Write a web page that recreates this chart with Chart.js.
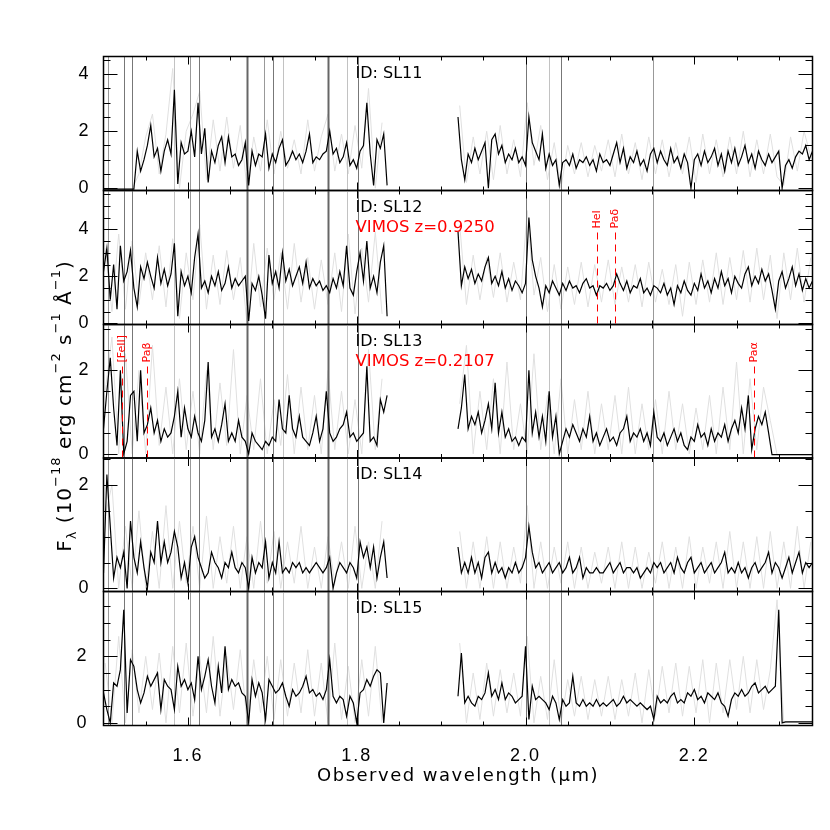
<!DOCTYPE html>
<html>
<head>
<meta charset="utf-8">
<script src="https://cdn.jsdelivr.net/npm/chart.js@4.4.1/dist/chart.umd.min.js"></script>
<style>
  html, body { margin: 0; padding: 0; background: #fff; }
  #wrap { position: relative; width: 830px; height: 830px; }
  #wrap canvas { position: absolute; left: 0; top: 0; }
</style>
</head>
<body>
<div id="wrap"></div>
<script>
// wavelength grid (micron)
const blueStart = 1.500, redStart = 1.920, fluxStep = 0.004;
const greyOffset = 0.002, greyStep = 0.008;
const gapWave = 1.878;

const panelIds = ['ID: SL11', 'ID: SL12', 'ID: SL13', 'ID: SL14', 'ID: SL15'];
const redshiftLabels = ['', 'VIMOS z=0.9250', 'VIMOS z=0.2107', '', ''];
const lineNames = [[], ['HeI', 'Paδ'], ['[FeII]', 'Paβ', 'Paα'], [], []];
const lineWaves = [[], [2.0848, 2.1061], [1.5215, 1.5519, 2.2702], [], []];

const yMin = [-0.08, -0.05, -0.10, -0.06, -0.08];
const yMax = [4.62, 5.65, 3.10, 2.52, 3.95];
const yTicks = [[0, 2, 4], [0, 2, 4], [0, 2], [0, 2], [0, 2]];
const xTickLabels = [1.6, 1.8, 2.0, 2.2];
const xMin = 1.5, xMax = 2.34;

// OH sky line mask, level 0 = strongest
const skyLines = [1.5057, 1.5243, 1.5334, 1.5839, 1.6025, 1.6132, 1.6698, 1.6903, 1.7006, 1.7125, 1.7665, 1.7883, 1.8014, 2.0009, 2.0281, 2.0416, 2.1511];
const skyLevel = [2, 1, 1, 3, 2, 1, 0, 2, 1, 3, 0, 3, 1, 1, 3, 1, 2];

// binned spectra (black), blue and red segments
const blueFlux = [
  [-0.03,-0.03,-0.03,-0.03,-0.03,-0.03,-0.03,-0.03,-0.03,-0.03, 1.3,0.6,1.0,1.5,2.2,1.1,1.4,0.6,1.3,1.7,
   1.2,3.45,0.15,1.6,1.2,1.3,2.0,1.1,3.0,1.2, 2.1,0.2,1.3,0.9,1.5,1.8,0.9,1.8,1.1,1.2,
   0.8,1.0,1.6,0.1,1.3,0.8,1.2,1.1,1.9,0.7, 1.2,0.9,1.4,1.7,0.8,1.0,1.3,1.0,1.2,0.9,
   1.3,1.9,0.9,1.1,1.0,1.2,1.3,2.0,1.2,1.4, 0.9,1.1,1.6,0.8,1.0,0.7,1.3,1.5,3.0,1.2, 0.1,1.7,1.4,1.9,0.1],
  [2.2,3.2,1.0,2.5,0.6,3.3,1.8,2.2,3.1,1.5, 0.7,2.4,1.9,2.6,2.0,1.5,2.8,1.7,2.3,1.6,
   2.1,3.4,0.3,2.2,1.6,2.0,1.3,2.8,3.8,1.5, 1.8,1.3,2.0,1.6,2.2,1.4,1.7,2.4,1.5,1.9,
   1.6,1.8,2.0,0.1,1.7,1.4,2.0,1.2,0.2,2.9, 1.7,2.2,1.5,3.0,1.8,2.3,1.6,2.0,2.4,1.7,
   2.6,1.5,1.9,1.6,1.8,1.4,1.6,1.3,1.9,1.5, 2.2,1.6,3.3,1.5,1.2,2.2,3.0,1.8,3.5,1.5, 2.0,1.3,2.6,3.3,0.3],
  [0.6,1.5,2.3,1.1,0.2,2.0,0.0,0.3,1.4,1.5, 0.3,2.0,0.5,0.7,1.1,0.5,0.8,0.3,0.6,0.4,
   0.5,0.9,1.5,0.4,1.1,0.6,0.4,0.9,0.5,0.3, 0.8,2.2,0.4,0.6,0.3,0.7,1.2,0.3,0.5,0.3,
   0.8,0.4,0.3,0.0,0.5,0.3,0.2,0.1,0.3,0.2, 0.4,0.3,1.3,0.6,0.5,1.4,0.6,0.4,0.9,0.4,
   0.3,0.2,0.5,0.9,0.3,0.6,1.5,0.5,0.3,0.4, 0.6,0.7,1.0,0.4,0.5,0.3,0.4,0.5,2.1,0.3, 0.4,0.2,1.3,1.0,1.4],
  [0.3,2.2,1.2,0.2,0.6,0.4,0.7,0.0,1.3,0.6, 0.3,0.9,0.4,0.0,0.7,0.5,1.3,0.5,0.9,0.5,
   0.7,1.1,0.8,0.2,0.5,0.1,0.8,1.0,0.6,0.4, 0.2,0.3,0.7,0.5,0.4,0.2,0.5,0.4,0.7,0.4,
   0.3,0.5,0.4,0.0,0.6,0.3,0.5,0.4,0.9,0.2, 0.5,0.3,0.9,0.3,0.4,0.3,0.5,0.4,0.5,0.3,
   0.4,0.3,0.4,0.5,0.4,0.3,0.4,0.6,0.0,0.3, 0.5,0.4,0.3,0.5,0.4,0.2,0.9,0.6,0.8,0.4, 0.8,0.2,0.6,0.9,0.2],
  [0.9,0.4,0.0,1.2,1.1,1.6,3.4,0.3,1.9,1.7, 1.0,0.6,0.9,1.4,1.1,1.3,1.5,0.4,1.3,1.1,
   1.0,0.4,1.7,1.1,1.3,1.0,1.2,0.7,2.0,1.0, 1.4,1.9,1.1,0.6,1.7,0.9,2.3,1.0,1.3,1.1,
   1.2,0.9,0.8,0.0,1.3,0.8,1.2,0.9,0.1,1.3, 1.1,0.9,1.0,1.2,0.8,0.5,1.0,0.8,0.9,1.1,
   1.4,0.9,1.0,0.8,0.9,0.7,1.0,1.9,0.8,0.6, 0.8,0.7,0.2,0.8,0.6,0.0,0.9,1.0,1.3,1.1, 1.4,1.6,1.5,0.0,1.2]
];
const redFlux = [
  [2.5,1.0,0.3,1.2,0.9,1.4,1.0,1.3,1.6,0.0, 1.7,1.9,1.2,1.5,0.9,1.2,1.0,1.4,0.9,1.1,
   0.8,2.5,1.6,1.3,1.0,1.9,0.7,1.2,0.8,1.0, 0.1,0.9,1.0,0.8,1.2,0.7,1.0,0.9,1.1,0.8,
   1.0,0.6,1.2,0.9,1.0,0.8,1.2,1.6,0.9,1.4, 0.7,1.1,0.9,1.3,0.8,1.0,0.6,1.2,1.4,0.9,
   1.3,1.0,0.8,1.4,0.9,1.1,0.7,1.2,0.9,0.0, 1.0,1.2,0.8,1.3,0.9,1.1,1.4,0.8,1.2,0.6,
   1.3,0.9,1.4,0.8,1.1,1.5,0.9,1.2,0.7,1.3, 1.0,0.8,1.2,0.9,1.1,1.3,0.0,0.8,1.0,0.7, 1.1,1.3,1.2,1.5,1.0,1.3],
  [3.9,1.6,2.4,1.9,2.3,1.7,2.1,1.8,2.4,2.8, 1.7,2.0,1.6,2.2,1.5,1.9,1.4,1.8,1.6,1.3,
   1.7,4.5,2.7,2.0,1.5,0.7,1.6,1.3,1.8,1.5, 1.2,1.7,1.4,1.8,1.5,1.6,1.3,1.7,1.9,1.5,
   1.6,1.2,1.6,1.5,1.7,1.4,1.6,2.1,1.7,1.4, 1.8,1.3,1.6,1.5,1.9,1.3,1.5,1.2,1.6,1.5,
   1.3,1.7,1.2,1.5,0.8,1.6,1.3,1.8,1.4,1.2, 1.7,1.4,2.1,1.5,1.8,1.3,1.9,1.5,2.2,1.6,
   1.9,1.3,2.0,1.7,1.5,2.1,2.4,1.6,2.0,1.7, 2.3,1.8,2.1,1.4,0.6,1.8,2.2,1.5,1.9,2.4, 1.6,2.1,1.4,1.9,1.5,1.8],
  [0.6,1.1,1.9,0.6,0.9,0.7,1.0,0.5,0.8,1.2, 0.6,1.7,0.5,1.0,0.4,0.6,0.3,0.4,0.2,0.4,
   0.3,2.0,0.5,1.0,0.4,0.9,0.3,1.5,0.4,0.9, 0.0,0.3,0.6,0.4,0.7,0.5,0.3,0.6,0.4,0.9,
   0.3,0.5,0.2,0.4,0.6,0.3,0.4,0.2,0.5,0.6, 0.9,0.3,0.5,0.4,0.6,0.3,0.5,0.2,1.0,0.4,
   0.3,0.5,0.2,0.4,0.6,0.3,0.5,0.2,0.1,0.4, 0.3,0.7,0.4,0.5,0.2,0.6,0.3,0.5,0.4,0.7,
   0.3,0.6,0.8,0.5,1.1,0.6,1.4,0.1,0.6,0.9, 0.7,1.0,0.5,-0.02,-0.02,-0.02,-0.02,-0.02,-0.02,-0.02, -0.02,-0.02,-0.02,-0.02,-0.02,-0.02],
  [0.8,0.3,0.5,0.3,0.6,0.3,0.5,0.2,0.6,0.7, 0.3,0.5,0.3,0.4,0.2,0.4,0.3,0.5,0.3,0.4,
   0.6,1.2,0.7,0.4,0.5,0.3,0.4,0.5,0.3,0.4, 0.5,0.3,0.4,0.6,0.3,0.4,0.6,0.2,0.4,0.3,
   0.3,0.4,0.3,0.3,0.4,0.5,0.3,0.4,0.5,0.3, 0.4,0.4,0.3,0.4,0.2,0.3,0.4,0.3,0.5,0.4,
   0.5,0.3,0.4,0.5,0.3,0.6,0.4,0.3,0.5,0.6, 0.3,0.4,0.5,0.3,0.4,0.5,0.3,0.4,0.5,0.7,
   0.3,0.4,0.3,0.5,0.3,0.4,0.2,0.4,0.5,0.3, 0.4,0.5,0.7,0.3,0.5,0.4,0.2,0.4,0.6,0.3, 0.5,0.7,0.3,0.5,0.4,0.5],
  [0.8,2.1,0.6,0.8,0.6,0.5,0.8,0.7,0.9,1.5, 0.8,1.0,0.7,1.2,0.7,0.9,0.8,0.6,0.7,0.8,
   2.3,0.1,1.1,0.7,0.8,0.7,0.6,0.4,0.8,0.6, 0.1,0.7,0.5,0.6,1.4,0.6,0.5,0.7,0.5,0.6,
   0.5,0.7,0.5,0.6,0.5,0.6,0.7,0.5,0.6,0.8, 0.6,0.7,0.6,0.5,0.6,0.5,0.4,0.5,0.1,0.8,
   0.6,0.7,0.6,0.8,0.9,0.6,0.7,0.6,0.9,0.8, 1.0,0.7,0.8,0.6,0.9,0.8,0.7,0.9,0.6,0.5,
   0.2,0.7,0.9,0.8,1.0,0.8,0.9,1.1,1.2,0.9, 1.0,1.1,0.9,1.0,1.1,3.4,0.0,0.03,0.03,0.03, 0.03,0.03,0.03,0.03,0.03,0.03]
];

// unbinned spectra (light grey)
const blueGrey = [
  [-0.03,-0.03,-0.03,-0.03,-0.03, 0.5,1.8,2.6,0.5,1.9, 4.2,0.0,2.0,2.6,3.4, 0.3,2.4,0.6,2.5,0.7,
   2.2,0.0,1.8,0.6,2.4, 0.5,2.0,0.7,1.7,0.5, 2.4,0.6,1.8,2.6,0.6, 1.9,0.5,2.2,0.7,3.5, 0.0,2.3],
  [3.2,0.5,3.8,0.6,3.5, 0.8,3.0,1.0,3.3,0.7, 3.6,0.2,3.0,1.0,4.2, 0.6,2.9,0.8,3.1,1.0,
   2.8,0.0,3.4,0.7,3.2, 1.0,3.0,0.6,3.4,0.9, 2.8,0.6,2.7,0.8,3.0, 0.5,3.8,0.4,3.2,0.9, 3.9,0.4],
  [1.5,2.8,0.0,2.4,0.0, 2.0,0.0,2.6,0.2,1.6, 0.0,1.8,0.1,1.5,0.0, 2.0,0.1,1.7,0.2,2.5,
   0.0,1.4,0.1,1.8,0.0, 1.3,0.2,1.9,0.0,1.6, 0.1,1.4,0.0,2.0,0.1, 1.5,0.0,1.3,0.0,2.5, 0.1,1.8],
  [1.4,2.0,0.0,1.2,0.0, 1.5,0.0,1.1,0.0,1.6, 0.0,1.3,0.1,1.2,0.0, 1.4,0.0,1.0,0.1,1.2,
   0.0,1.0,0.0,1.3,0.1, 1.1,0.0,0.9,0.1,1.2, 0.0,0.8,0.0,1.0,0.1, 0.9,0.0,1.2,0.0,0.9, 0.0,1.3],
  [1.8,0.0,2.6,0.0,2.2, 0.3,2.0,0.4,2.1,0.0, 2.3,0.3,2.4,0.2,2.0, 0.3,2.6,0.2,2.0,0.4,
   2.2,0.0,1.9,0.3,2.0, 0.1,1.9,0.2,1.8,0.3, 2.2,0.2,1.8,0.0,2.4, 0.1,1.7,0.0,1.9,0.2, 2.3,0.0]
];
const redGrey = [
  [2.9,0.2,1.8,0.5,2.0, 0.3,2.2,0.5,1.7,0.4, 3.0,0.8,2.2,0.3,1.6, 0.0,1.5,0.5,1.6,0.4,
   1.5,0.6,1.7,0.4,1.9, 0.5,1.6,0.3,1.8,0.5, 1.7,0.4,1.6,0.5,1.8, 0.2,1.9,0.5,1.7,0.4,
   1.8,0.5,2.0,0.4,1.7, 0.5,1.9,0.4,0.1,1.8, 0.6,2.0,1.1],
  [4.2,0.8,2.9,1.0,2.8, 1.1,3.0,0.9,2.6,1.0, 4.8,1.2,2.8,0.5,2.5, 0.6,2.4,0.8,2.6,0.7,
   2.5,0.9,2.7,0.8,2.4, 0.9,2.5,0.7,2.6,0.9, 2.3,0.8,2.5,0.3,2.6, 0.8,2.7,0.9,3.0,0.8,
   2.8,1.0,3.1,0.9,3.2, 1.0,2.9,0.2,3.0,1.0, 3.2,0.9,2.8],
  [1.2,2.6,0.0,1.5,0.1, 1.8,0.0,2.2,0.1,1.2, 0.0,2.4,0.1,1.4,0.0, 1.8,0.0,1.3,0.1,1.5,
   0.0,1.2,0.1,1.4,0.0, 1.6,0.0,1.2,0.1,1.3, 0.0,1.5,0.1,1.2,0.0, 1.1,0.1,1.4,0.0,1.6,
   0.1,2.2,0.0,1.8,0.1, 1.6,0.8,-0.02,-0.02,-0.02, -0.02,-0.02,-0.02],
  [1.1,0.0,0.9,0.0,1.0, 0.0,0.9,0.0,0.8,0.1, 1.6,0.0,0.9,0.0,0.8, 0.1,0.9,0.0,0.8,0.0,
   0.7,0.1,0.8,0.0,0.9, 0.0,0.8,0.0,0.7,0.1, 0.9,0.0,0.8,0.0,1.0, 0.0,0.8,0.1,0.9,0.0,
   1.1,0.0,0.9,0.0,1.0, 0.0,1.1,0.0,0.9,0.0, 1.2,0.0,0.9],
  [2.4,0.0,1.5,0.1,1.8, 0.2,1.6,0.3,1.5,0.2, 2.6,0.0,1.4,0.1,1.9, 0.0,1.3,0.2,1.4,0.1,
   1.3,0.2,1.4,0.1,1.3, 0.2,1.5,0.0,1.6,0.2, 1.7,0.3,1.8,0.2,1.7, 0.3,1.9,0.0,1.8,0.3,
   1.9,0.4,2.0,0.3,1.9, 0.4,1.6,3.7,0.0,0.03, 0.03,0.03,0.03]
];

// panel frame rows in pixels
const panelTop = [56.5, 190.5, 324.5, 458, 591.5];
const panelBottom = [190.5, 324.5, 458, 591.5, 725.5];
const frameLeft = 103.5, frameRight = 812.5;

const yTitleParts = [
  { text: 'F', kind: 'n' }, { text: 'λ', kind: 'sub' }, { text: ' (10', kind: 'n' },
  { text: '−18', kind: 'sup' }, { text: ' erg cm', kind: 'n' }, { text: '−2', kind: 'sup' },
  { text: ' s', kind: 'n' }, { text: '−1', kind: 'sup' }, { text: ' Å', kind: 'n' },
  { text: '−1', kind: 'sup' }, { text: ')', kind: 'n' }
];

function toPoints(blue, red, b0, r0, step) {
  const pts = blue.map((v, i) => ({ x: b0 + i * step, y: v }));
  pts.push({ x: gapWave, y: null });
  red.forEach((v, i) => pts.push({ x: r0 + i * step, y: v }));
  return pts;
}

const skyColors = ['#666666', '#777777', '#999999', '#c2c2c2'];

const panelDecor = {
  id: 'panelDecor',
  beforeDraw(chart, args, opts) {
    chart.ctx.letterSpacing = opts.panel === 4 ? '2px' : '0px';
  },
  beforeDatasetDraw(chart, args) {
    if (args.index !== 0) return;
    const { ctx, chartArea: a, scales: { x } } = chart;
    ctx.save();
    skyLines.forEach((w, i) => {
      const px = Math.round(x.getPixelForValue(w)) + 0.5;
      ctx.strokeStyle = skyColors[skyLevel[i]];
      ctx.lineWidth = skyLevel[i] === 0 ? 2 : 1;
      ctx.beginPath();
      ctx.moveTo(px, a.top);
      ctx.lineTo(px, a.bottom);
      ctx.stroke();
    });
    ctx.restore();
  },
  afterDraw(chart, args, opts) {
    const p = opts.panel;
    const { ctx, chartArea: a, scales: { x, y } } = chart;
    ctx.save();
    ctx.letterSpacing = '0px';

    // inward ticks on all four sides
    ctx.strokeStyle = '#000';
    ctx.lineWidth = 1;
    ctx.beginPath();
    const nx = Math.floor((xMax - xMin) / 0.05 + 1e-6);
    for (let k = 1; k <= nx; k++) {
      const v = xMin + k * 0.05;
      const major = xTickLabels.some(t => Math.abs(t - v) < 1e-6);
      const len = major ? 8 : 4;
      const px = Math.round(x.getPixelForValue(v)) + 0.5;
      ctx.moveTo(px, a.bottom); ctx.lineTo(px, a.bottom - len);
      ctx.moveTo(px, a.top); ctx.lineTo(px, a.top + len);
    }
    for (let v = Math.ceil(yMin[p] / 0.5) * 0.5; v <= yMax[p]; v += 0.5) {
      const major = yTicks[p].includes(v);
      const len = major ? 14 : 7;
      const py = Math.round(y.getPixelForValue(v)) + 0.5;
      ctx.moveTo(a.left, py); ctx.lineTo(a.left + len, py);
      ctx.moveTo(a.right, py); ctx.lineTo(a.right - len, py);
    }
    ctx.stroke();

    // frame
    ctx.lineWidth = 1.5;
    ctx.strokeRect(a.left, a.top, a.right - a.left, a.bottom - a.top);

    // emission line markers
    lineWaves[p].forEach((w, i) => {
      const px = Math.round(x.getPixelForValue(w)) + 0.5;
      ctx.strokeStyle = '#ff0000';
      ctx.lineWidth = 1;
      ctx.setLineDash([7, 5]);
      ctx.beginPath();
      ctx.moveTo(px, a.top + 42);
      ctx.lineTo(px, a.bottom);
      ctx.stroke();
      ctx.setLineDash([]);
      ctx.save();
      ctx.translate(px, a.top + 38);
      ctx.rotate(-Math.PI / 2);
      ctx.fillStyle = '#ff0000';
      ctx.font = '11px "DejaVu Sans"';
      ctx.textAlign = 'left';
      ctx.textBaseline = 'middle';
      ctx.fillText(lineNames[p][i], 0, 0);
      ctx.restore();
    });

    // panel labels
    ctx.textAlign = 'left';
    ctx.textBaseline = 'alphabetic';
    ctx.fillStyle = '#000';
    ctx.font = '16px "DejaVu Sans"';
    ctx.fillText(panelIds[p], a.left + 252, a.top + 21);
    if (redshiftLabels[p]) {
      ctx.fillStyle = '#ff0000';
      ctx.font = '16.5px "DejaVu Sans"';
      ctx.fillText(redshiftLabels[p], a.left + 252, a.top + 41);
    }

    if (p === 4) {
      // x title
      ctx.fillStyle = '#000';
      ctx.font = '18px "DejaVu Sans"';
      ctx.letterSpacing = '1.5px';
      ctx.textAlign = 'center';
      ctx.fillText('Observed wavelength (μm)', 458, 781);
      ctx.letterSpacing = '1px';

      // y title with sub and superscripts
      const fontFor = k => (k === 'n' ? '20px "DejaVu Sans"' : '13px "DejaVu Sans"');
      ctx.translate(71, 406);
      ctx.rotate(-Math.PI / 2);
      ctx.textAlign = 'left';
      let total = 0;
      yTitleParts.forEach(pt => { ctx.font = fontFor(pt.kind); total += ctx.measureText(pt.text).width; });
      let cx = -total / 2;
      yTitleParts.forEach(pt => {
        ctx.font = fontFor(pt.kind);
        const dy = pt.kind === 'sup' ? -11 : pt.kind === 'sub' ? 5 : 0;
        ctx.fillText(pt.text, cx, dy);
        cx += ctx.measureText(pt.text).width;
      });
    }
    ctx.restore();
  }
};

const wrap = document.getElementById('wrap');
panelIds.forEach((id, p) => {
  const canvas = document.createElement('canvas');
  canvas.width = 830;
  canvas.height = 830;
  wrap.appendChild(canvas);
  const last = p === panelIds.length - 1;
  new Chart(canvas, {
    type: 'line',
    data: {
      datasets: [
        {
          data: toPoints(blueFlux[p], redFlux[p], blueStart, redStart, fluxStep),
          borderColor: '#000', borderWidth: 1.2, pointRadius: 0, tension: 0, spanGaps: false
        },
        {
          data: toPoints(blueGrey[p], redGrey[p], blueStart + greyOffset, redStart + greyOffset, greyStep),
          borderColor: '#e0e0e0', borderWidth: 1, pointRadius: 0, tension: 0, spanGaps: false
        }
      ]
    },
    options: {
      responsive: false,
      devicePixelRatio: 1,
      animation: false,
      events: [],
      layout: {
        padding: { left: 0, right: 830 - frameRight, top: panelTop[p], bottom: last ? 0 : 830 - panelBottom[p] }
      },
      plugins: {
        legend: { display: false },
        tooltip: { enabled: false },
        panelDecor: { panel: p }
      },
      scales: {
        x: {
          type: 'linear',
          min: xMin,
          max: xMax,
          display: last,
          grid: { display: false },
          border: { display: false },
          afterBuildTicks: axis => { axis.ticks = xTickLabels.map(v => ({ value: v })); },
          afterFit: axis => { if (last) axis.height = 830 - panelBottom[p]; },
          ticks: {
            autoSkip: false,
            maxRotation: 0,
            padding: 12,
            color: '#000',
            font: { family: '"Liberation Sans", Arial, sans-serif', size: 18 },
            callback: v => v.toFixed(1)
          }
        },
        y: {
          type: 'linear',
          min: yMin[p],
          max: yMax[p],
          grid: { display: false },
          border: { display: false },
          afterBuildTicks: axis => { axis.ticks = yTicks[p].map(v => ({ value: v })); },
          afterFit: axis => { axis.width = frameLeft; },
          ticks: {
            padding: 7,
            color: '#000',
            font: { family: '"Liberation Sans", Arial, sans-serif', size: 18 }
          }
        }
      }
    },
    plugins: [panelDecor]
  });
});
</script>
</body>
</html>
